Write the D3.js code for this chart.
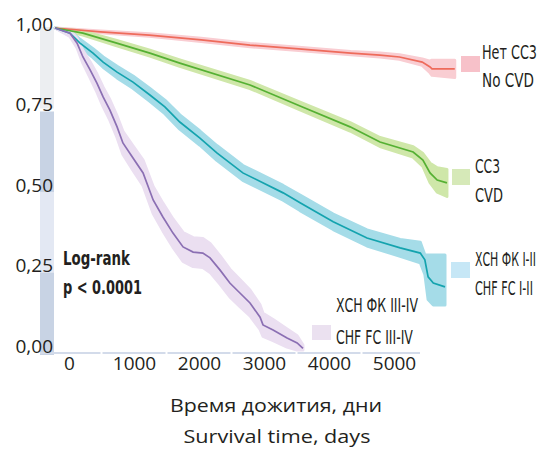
<!DOCTYPE html>
<html><head><meta charset="utf-8">
<script src="https://cdn.jsdelivr.net/npm/d3@7"></script>
<style>
body{margin:0;background:#fff;}
svg{display:block;}
.cond{font-family:"Liberation Sans Narrow","DejaVu Sans Condensed","Open Sans",sans-serif;font-stretch:condensed;fill:#231f20;}
.tick text{font-family:"Open Sans",sans-serif;fill:#231f20;}
</style></head>
<body>
<svg id="chart" width="539" height="450"></svg>
<script>
// ---------- DATA ----------
const yTicks = [0, 0.25, 0.5, 0.75, 1];
const xTicks = [0, 1000, 2000, 3000, 4000, 5000];

// No CVD (Нет ССЗ)
const noCvdT  = [0, 700, 1450, 2250, 3000, 3750, 4550, 5000, 5300, 5650, 5770, 5800, 6150];
const noCvdS  = [1.000, 0.988, 0.978, 0.963, 0.947, 0.935, 0.922, 0.916, 0.910, 0.894, 0.879, 0.873, 0.873];
const noCvdLo = [1.000, 0.985, 0.974, 0.958, 0.942, 0.930, 0.917, 0.910, 0.903, 0.884, 0.861, 0.853, 0.846];
const noCvdHi = [1.000, 0.991, 0.982, 0.968, 0.952, 0.940, 0.927, 0.922, 0.917, 0.904, 0.897, 0.900, 0.900];

// CVD (ССЗ)
const cvdT  = [0, 430, 950, 1460, 1920, 3000, 3770, 4540, 5000, 5510, 5660, 5770, 5880, 6030];
const cvdS  = [1.000, 0.984, 0.953, 0.922, 0.891, 0.823, 0.758, 0.693, 0.646, 0.615, 0.590, 0.550, 0.528, 0.519];
const cvdLo = [1.000, 0.978, 0.945, 0.913, 0.881, 0.812, 0.746, 0.680, 0.632, 0.599, 0.570, 0.520, 0.490, 0.477];
const cvdHi = [1.000, 0.990, 0.961, 0.931, 0.901, 0.834, 0.770, 0.706, 0.660, 0.631, 0.610, 0.580, 0.566, 0.561];

// CHF FC I-II (ХСН ФК I-II)
const chf12T  = [0, 230, 385, 585, 740, 955, 1200, 1460, 1690, 1920, 2230, 2490, 2890, 3510, 3770, 4280, 4800, 5310, 5620, 5690, 5740, 5820, 6000];
const chf12S  = [1.000, 0.984, 0.953, 0.922, 0.894, 0.863, 0.832, 0.792, 0.755, 0.708, 0.658, 0.612, 0.550, 0.488, 0.457, 0.398, 0.348, 0.317, 0.301, 0.280, 0.227, 0.208, 0.196];
const chf12Lo = [1.000, 0.976, 0.941, 0.908, 0.878, 0.845, 0.813, 0.772, 0.734, 0.686, 0.636, 0.589, 0.527, 0.465, 0.433, 0.374, 0.323, 0.291, 0.271, 0.235, 0.157, 0.140, 0.140];
const chf12Hi = [1.000, 0.992, 0.965, 0.936, 0.910, 0.881, 0.851, 0.812, 0.776, 0.730, 0.680, 0.635, 0.573, 0.511, 0.481, 0.422, 0.373, 0.343, 0.335, 0.295, 0.295, 0.295, 0.295];

// CHF FC III-IV (ХСН ФК III-IV)
const chf34T  = [0, 230, 340, 430, 540, 645, 740, 845, 955, 1045, 1200, 1355, 1510, 1660, 1815, 1970, 2125, 2275, 2385, 2540, 2690, 2845, 3000, 3155, 3200, 3355, 3570, 3725, 3815];
const chf34S  = [1.000, 0.984, 0.953, 0.910, 0.870, 0.829, 0.786, 0.745, 0.693, 0.643, 0.596, 0.550, 0.466, 0.413, 0.363, 0.320, 0.304, 0.301, 0.286, 0.248, 0.208, 0.177, 0.146, 0.102, 0.078, 0.062, 0.037, 0.022, 0.005];
const chf34Lo = [1.000, 0.974, 0.938, 0.890, 0.845, 0.801, 0.756, 0.713, 0.659, 0.607, 0.558, 0.510, 0.424, 0.370, 0.319, 0.275, 0.259, 0.256, 0.241, 0.204, 0.165, 0.135, 0.106, 0.064, 0.042, 0.029, 0.009, 0.000, 0.000];
const chf34Hi = [1.000, 0.994, 0.968, 0.930, 0.895, 0.857, 0.816, 0.777, 0.727, 0.679, 0.634, 0.590, 0.508, 0.456, 0.407, 0.365, 0.349, 0.346, 0.331, 0.292, 0.251, 0.219, 0.186, 0.140, 0.114, 0.095, 0.065, 0.044, 0.015];

const seriesNames = ["noCvd", "cvd", "chf12", "chf34"];
const legendRu = ["Нет СС3", "СС3", "ХСН ФК I-II", "ХСН ФК III-IV"];
const legendEn = ["No CVD", "CVD", "CHF FC I-II", "CHF FC III-IV"];
const xTitleRu = "Время дожития, дни";
const xTitleEn = "Survival time, days";
const statLines = ["Log-rank", "p < 0.0001"];

// ---------- STYLE ----------
const lineColors = ["#ee6b5b", "#55b033", "#14a3ae", "#8b6fb3"];
const bandColors = ["#f9cdd2", "#cfe7a9", "#a5dce8", "#ebdff1"];
const swatchColors = ["#f7c1c9", "#d6e9b8", "#c6e7f6", "#ebe1f0"];

const svg = d3.select("#chart");
const x = d3.scaleLinear().domain([0, 5000]).range([55, 380]);
const y = d3.scaleLinear().domain([0, 1]).range([350, 28]);

// condensed text helper: scale horizontally to a target width
function condText(g, str, x0, base, size, width, bold) {
  const t = g.append("text").attr("class", "cond").attr("x", 0).attr("y", 0)
    .attr("font-size", size).attr("font-weight", bold ? "bold" : null).text(str);
  const nat = t.node().getComputedTextLength();
  t.attr("transform", `translate(${x0},${base}) scale(${width / nat},1)`);
  return t;
}

// left decorative bands on y-axis
const bandDefs = [
  {a: 1, b: 0.75, c: "#eceef1", pad0: -1, pad1: 0},
  {a: 0.75, b: 0.5, c: "#c8d3e4", pad0: 3, pad1: 3},
  {a: 0.5, b: 0.25, c: "#e3e8f3", pad0: 3, pad1: 3},
  {a: 0.25, b: 0, c: "#c8d3e4", pad0: 3, pad1: 5}
];
svg.append("g").selectAll("rect").data(bandDefs).join("rect")
  .attr("x", 40).attr("width", 14)
  .attr("y", d => y(d.a) + d.pad0)
  .attr("height", d => y(d.b) - y(d.a) + d.pad1 - d.pad0)
  .attr("fill", d => d.c);

// bottom axis line with small gaps
const gapPos = xTicks.slice(0, -1).map((t, i) => (x(t) + x(xTicks[i + 1])) / 2 + 14);
const segs = [];
let start = 40;
gapPos.forEach(g => { segs.push([start, g - 1]); start = g + 1; });
segs.push([start, 420]);
svg.append("g").selectAll("line").data(segs).join("line")
  .attr("x1", d => d[0]).attr("x2", d => d[1])
  .attr("y1", y(0) + 3).attr("y2", y(0) + 3)
  .attr("stroke", "#d3dbea").attr("stroke-width", 2);

// series data
const all = {
  noCvd: {t: noCvdT, s: noCvdS, lo: noCvdLo, hi: noCvdHi},
  cvd: {t: cvdT, s: cvdS, lo: cvdLo, hi: cvdHi},
  chf12: {t: chf12T, s: chf12S, lo: chf12Lo, hi: chf12Hi},
  chf34: {t: chf34T, s: chf34S, lo: chf34Lo, hi: chf34Hi}
};
const rows = seriesNames.map(n => all[n].t.map((t, i) => ({t, s: all[n].s[i], lo: all[n].lo[i], hi: all[n].hi[i]})));

const area = d3.area().x(d => x(d.t)).y0(d => y(d.lo)).y1(d => y(d.hi));
const line = d3.line().x(d => x(d.t)).y(d => y(d.s));

// bands
svg.append("g").selectAll("path").data(rows).join("path")
  .attr("d", d => area(d))
  .attr("fill", (d, i) => bandColors[i])
  .attr("stroke", (d, i) => bandColors[i])
  .attr("stroke-width", 3)
  .attr("stroke-linejoin", "round");
// lines
svg.append("g").selectAll("path").data(rows).join("path")
  .attr("d", d => line(d))
  .attr("fill", "none")
  .attr("stroke", (d, i) => lineColors[i])
  .attr("stroke-width", 1.7);

// axes
const fmt = d => d3.format(".2f")(d).replace(".", ",");
const yAx = svg.append("g").attr("transform", "translate(55,0)")
  .call(d3.axisLeft(y).tickValues(yTicks).tickFormat(fmt).tickSize(0).tickPadding(2));
yAx.select(".domain").remove();
yAx.selectAll("text").attr("font-size", 19).attr("dy", "0.32em").attr("transform", "translate(0,-4)");

const xAx = svg.append("g").attr("transform", `translate(0,${y(0) + 3})`)
  .call(d3.axisBottom(x).tickValues(xTicks).tickFormat(d3.format("d")).tickSize(0).tickPadding(3));
xAx.select(".domain").remove();
xAx.selectAll("text").attr("font-size", 19).attr("dx", 14);

// axis titles
svg.append("text").attr("x", 276).attr("y", 412).attr("text-anchor", "middle")
  .attr("font-family", "'Open Sans',sans-serif").attr("font-size", 19).attr("fill", "#231f20")
  .attr("textLength", 212).attr("lengthAdjust", "spacingAndGlyphs").text(xTitleRu);
svg.append("text").attr("x", 277).attr("y", 443).attr("text-anchor", "middle")
  .attr("font-family", "'Open Sans',sans-serif").attr("font-size", 19).attr("fill", "#231f20")
  .attr("textLength", 187).attr("lengthAdjust", "spacingAndGlyphs").text(xTitleEn);

// legend
const legend = [
  {sq: [461, 56, 19, 16], tx: 482, b1: 59, b2: 87, w1: 55, w2: 52},
  {sq: [452, 169, 18, 16], tx: 475, b1: 173, b2: 202, w1: 25, w2: 28},
  {sq: [451, 262, 19, 16], tx: 475, b1: 266, b2: 295, w1: 61, w2: 58},
  {sq: [312, 325, 19, 15], tx: 336, b1: 312, b2: 344, w1: 82, w2: 77}
];
const lg = svg.append("g");
legend.forEach((L, i) => {
  lg.append("rect").attr("x", L.sq[0]).attr("y", L.sq[1]).attr("width", L.sq[2]).attr("height", L.sq[3]).attr("fill", swatchColors[i]);
  condText(lg, legendRu[i], L.tx, L.b1, 19, L.w1, false);
  condText(lg, legendEn[i], L.tx, L.b2, 19, L.w2, false);
});

// log-rank
const statW = [67, 79];
const statB = [265, 294];
statLines.forEach((s, i) => condText(svg, s, 63, statB[i], 19, statW[i], true));
</script>
</body></html>
